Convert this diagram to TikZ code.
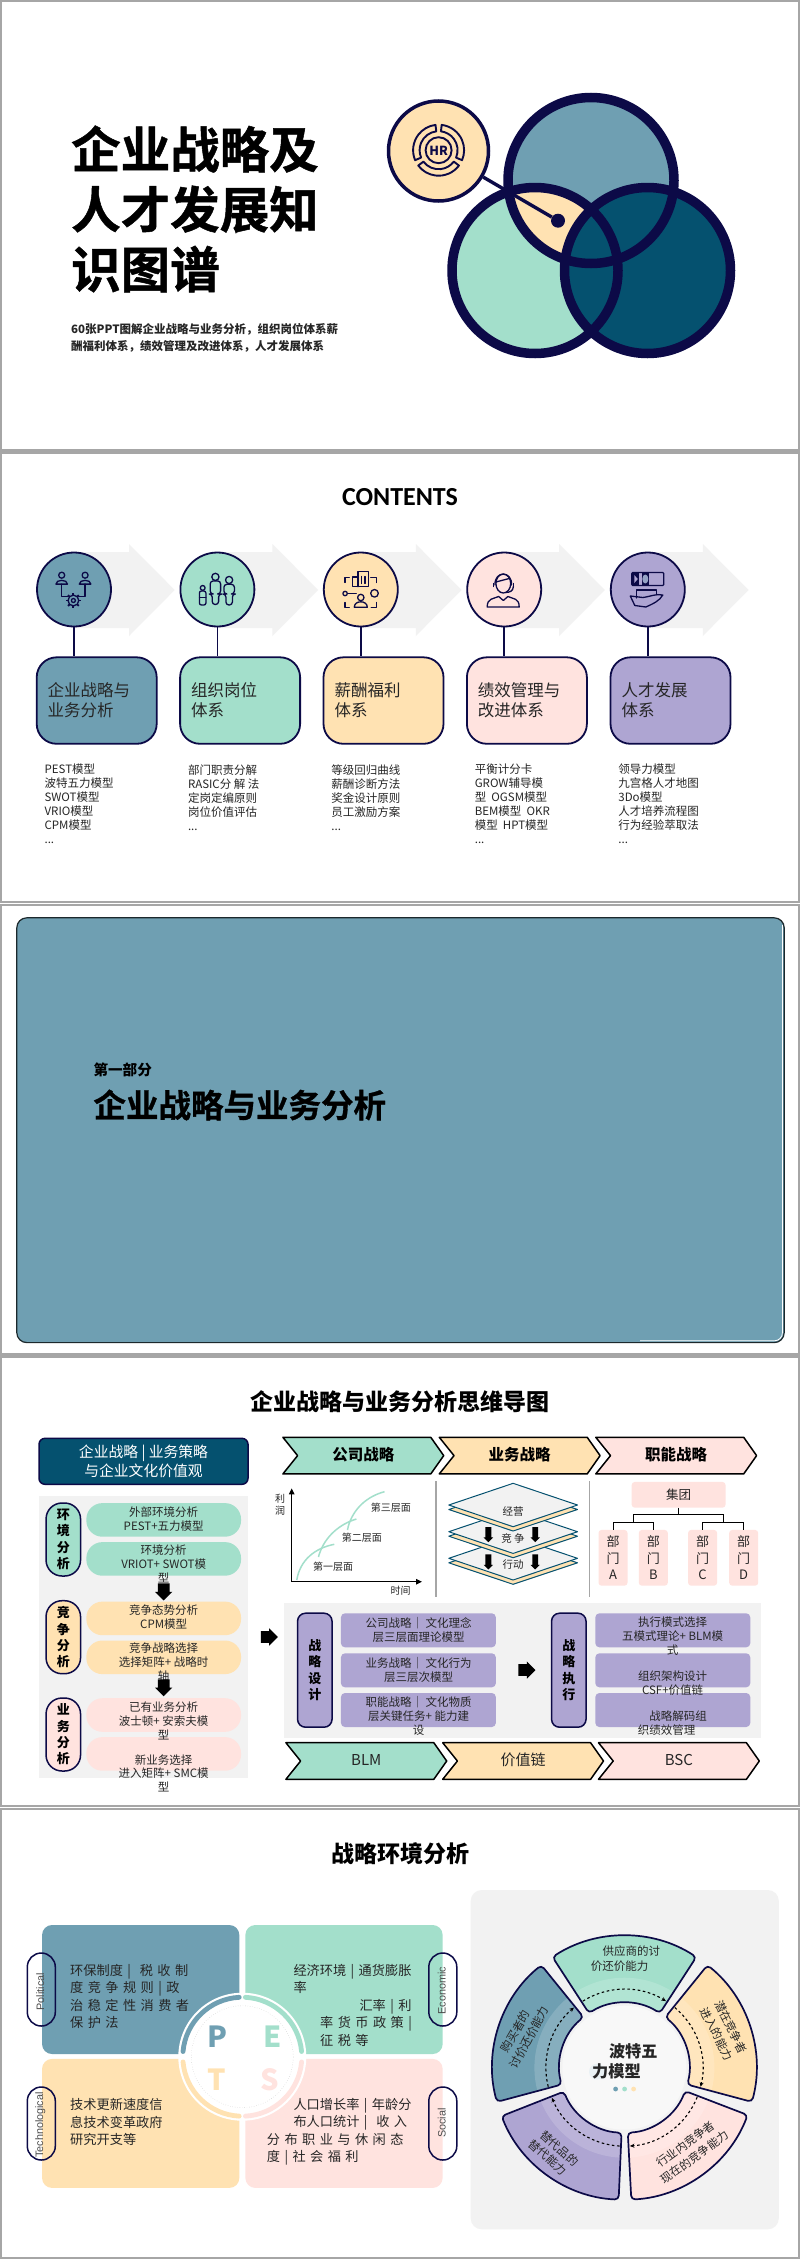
\documentclass[tikz,border=0pt]{standalone}
\usepackage{fontspec}
\usepackage{xcolor}
\usepackage{tikz}
\usetikzlibrary{positioning, arrows.meta, calc, shapes.arrows}
\setmainfont{Noto Sans CJK SC}
\newfontfamily\heavyfont[FakeBold=1.0]{Noto Sans CJK SC Bold}
\newfontfamily\headfont{Carlito}
\newfontfamily\arialfont{Liberation Sans}
\newfontfamily\widefont[WordSpace=1.5]{Noto Sans CJK SC}
\newcommand{\txtsize}[2]{\fontsize{#1}{#2}\selectfont}
\definecolor{bluec}{HTML}{6F9FB2}
\definecolor{mintc}{HTML}{A3DFCB}
\definecolor{creamc}{HTML}{FFE2B2}
\definecolor{pinkc}{HTML}{FFE3DF}
\definecolor{purplec}{HTML}{AEA5D2}
\definecolor{tealc}{HTML}{05516F}
\definecolor{navyc}{HTML}{0C0A47}
\definecolor{framec}{HTML}{A6A6A6}
\definecolor{panelc}{HTML}{F2F2F2}
\definecolor{inkc}{HTML}{262626}
\newcommand{\chevronbox}[4]{%
  \draw[chevronline,fill=#4] (#2,#3) -- ++(147.9,0) -- ++(12.9,18.3) -- ++(-12.9,18.3) -- ++(-147.9,0) -- ++(14.7,-18.3) -- cycle;
  \coordinate (#1) at (#2+80.4,#3+17.4);
}
\begin{document}
\begin{tikzpicture}[
    x=1pt, y=-1pt,
    slideframe/.style={draw=framec, line width=2.4pt},
    bigtitle/.style={inner sep=0pt, font=\heavyfont\txtsize{49.5}{60}, align=left, text=black},
    slidetitle/.style={inner sep=0pt, font=\bfseries\txtsize{23}{28}, text=black},
    topiccircle/.style={circle, draw=navyc, line width=1.8pt, minimum size=74pt, inner sep=0pt},
    topicbox/.style={draw=navyc, line width=1.8pt, rounded corners=20pt, minimum width=120pt, minimum height=86.5pt,
      text width=98pt, align=left, inner sep=0pt, text=inkc, font=\txtsize{16.5}{20}},
    linkline/.style={draw=navyc, line width=1.8pt},
    topiclist/.style={anchor=west, inner sep=0pt, align=left, text=inkc, font=\txtsize{11.5}{14}},
    icon/.style={draw=navyc, line width=1.3pt, line cap=round, line join=round},
    sidepill/.style={draw=navyc, line width=1.5pt, rounded corners=16pt, minimum width=34.5pt, minimum height=73pt,
      inner sep=0pt, align=center, text=black, font=\bfseries\txtsize{13}{16.3}},
    softpill/.style={rounded corners=16pt, minimum width=154.7pt, minimum height=33.6pt, inner sep=0pt},
    stepbox/.style={fill=purplec, rounded corners=4pt, minimum width=154.9pt, minimum height=34pt, inner sep=0pt},
    smalltext/.style={inner sep=0pt, align=center, text=inkc, font=\txtsize{11.5}{13.9}},
    chevronline/.style={draw=black, line width=1.5pt, line join=round},
    chevronlabel/.style={inner sep=0pt, text=black, font=\bfseries\txtsize{15.5}{18}},
    chevronplain/.style={inner sep=0pt, text=inkc, font=\txtsize{15}{18}},
    axisline/.style={draw=black, line width=1.3pt, -{Triangle[length=6pt,width=5.5pt]}},
    growcurve/.style={draw=mintc, line width=1.5pt},
    chartlabel/.style={inner sep=0pt, align=center, text=inkc, font=\txtsize{10}{12.6}},
    blockarrow/.style={single arrow, fill=black, inner sep=0pt, text height=11.5pt, text depth=0pt, text width=0pt,
      minimum height=17pt, minimum width=17pt, single arrow head extend=2.75pt, single arrow head indent=0pt},
    thinarrow/.style={single arrow, fill=black, inner sep=0pt, text height=5.5pt, text depth=0pt, text width=0pt,
      minimum height=15pt, minimum width=9pt, single arrow head extend=1.75pt, single arrow head indent=0pt, rotate=-90},
    orgbox/.style={fill=pinkc, rounded corners=3pt, inner sep=0pt, align=center, text=inkc},
    orgline/.style={draw=black, line width=1pt},
    divider/.style={draw=framec, line width=1.3pt},
    quadrant/.style={rounded corners=10pt, minimum width=197.3pt, minimum height=129pt, inner sep=0pt},
    quadtext/.style={anchor=west, inner sep=0pt, align=left, text=inkc, font=\widefont\txtsize{13.2}{17.4}},
    tagpill/.style={draw=navyc, line width=1.5pt, rounded corners=14pt, minimum width=28pt, minimum height=73pt, inner sep=0pt},
    tagtext/.style={rotate=90, inner sep=0pt, text=black!70, font=\arialfont\txtsize{10.8}{13}},
    pestletter/.style={inner sep=0pt, font=\bfseries\txtsize{29}{32}},
    wheeltext/.style={inner sep=0pt, text=inkc, font=\txtsize{11.5}{14}}
  ]
  \useasboundingbox (0,0) rectangle (800,2259);
  \fill[white] (0,0) rectangle (800,2259);

  % frames of the five slides
  \draw[slideframe] (1,1) rectangle (798.8,450.6);
  \draw[slideframe] (1,453.2) rectangle (798.8,902);
  \draw[slideframe] (1,905) rectangle (798.8,1354.3);
  \draw[slideframe] (1,1357.2) rectangle (798.8,1806);
  \draw[slideframe] (1,1808.8) rectangle (798.8,2257.8);

  % cover
  \node[bigtitle, anchor=west] (covertitle) at (71,209) {企业战略及\\人才发展知\\识图谱};
  \node[anchor=west, inner sep=0pt, align=left, font=\bfseries\txtsize{11.5}{17}, text=inkc] (coversub) at (71,337.5)
    {60张PPT图解企业战略与业务分析，组织岗位体系薪\\酬福利体系，绩效管理及改进体系，人才发展体系};
  \coordinate (topc) at (591,180.5);
  \coordinate (leftc) at (535,270.5);
  \coordinate (rightc) at (647.5,270.5);
  \fill[bluec] (topc) circle[radius=83];
  \fill[mintc] (leftc) circle[radius=83];
  \begin{scope}
    \clip (leftc) circle[radius=83];
    \fill[creamc] (topc) circle[radius=83];
  \end{scope}
  \fill[tealc] (rightc) circle[radius=83];
  \node[circle, draw=navyc, fill=creamc, line width=3.5pt, minimum size=100pt, inner sep=0pt] (hrcircle) at (438.5,151) {};
  \node[circle, fill=navyc, minimum size=14pt, inner sep=0pt] (hrdot) at (558,220.7) {};
  \draw[navyc, line width=3.4pt] (hrcircle) -- (hrdot);
  \draw[navyc, line width=9.5pt] (topc) circle[radius=83] (leftc) circle[radius=83] (rightc) circle[radius=83];
  \node[inner sep=0pt, text=navyc, font=\bfseries\txtsize{12.5}{14}] (hrlabel) at (438.6,150.5) {HR};
  \begin{scope}[shift={(438.6,150.2)}, y=1pt]
    \draw[navyc, line width=1.9pt] (0,0) circle[radius=13];
    \foreach \a/\b in {97/203, -23/83, 217/323}
      \draw[navyc, line width=1.9pt, line join=round] (\a:19) arc[start angle=\a, end angle=\b, radius=19]
        -- (\b:25.5) arc[start angle=\b, end angle=\a, radius=25.5] -- cycle;
  \end{scope}

  % contents
  \node[inner sep=0pt, text=black, font=\headfont\bfseries\txtsize{26}{30}] (contentstitle) at (400,497) {CONTENTS};
  \foreach \xc in {74,217.4,360.8,504.2,647.8}
    \fill[panelc] (\xc,552) -- ++(55,0) -- ++(0,-8) -- ++(45.7,46) -- ++(-45.7,46) -- ++(0,-8) -- ++(-55,0) -- cycle;
  \foreach \nm/\xc/\col/\ly/\ttl/\lst in {
    bizunit/74/bluec/804/{企业战略与\\业务分析}/{PEST模型\\波特五力模型\\SWOT模型\\VRIO模型\\CPM模型\\...},
    orgunit/217.4/mintc/797.5/{组织岗位\\体系}/{部门职责分解\\RASIC分 解 法\\定岗定编原则\\岗位价值评估\\...},
    payunit/360.8/creamc/797.5/{薪酬福利\\体系}/{等级回归曲线\\薪酬诊断方法\\奖金设计原则\\员工激励方案\\...},
    perfunit/504.2/pinkc/804/{绩效管理与\\改进体系}/{平衡计分卡\\GROW辅导模\\型\ \ OGSM模型\\BEM模型\ \ OKR\\模型\ \ HPT模型\\...},
    talentunit/647.8/purplec/804/{人才发展\\体系}/{领导力模型\\九宫格人才地图\\3Do模型\\人才培养流程图\\行为经验萃取法\\...}} {
    \node[topiccircle, fill=\col] (circle\nm) at (\xc,589.5) {};
    \node[topicbox, fill=\col, below=29pt of circle\nm, xshift=22.7pt] (box\nm) {\ttl};
    \draw[linkline] (circle\nm.south) -- (circle\nm.south |- box\nm.north);
    \node[topiclist] (list\nm) at (\xc-29.6,\ly) {\lst};
  }

  % icons of the contents row
  \begin{scope}[shift={(74,589.5)}]
    \foreach \s in {-1,1} {
      \draw[icon] (\s*11.7-0.6,-14.3) circle[radius=3];
      \draw[icon] (\s*11.7-6.4,-5.4) .. controls (\s*11.7-6.4,-10.4) and (\s*11.7+5.2,-10.4) .. (\s*11.7+5.2,-5.4) -- cycle;
      \draw[icon] (\s*11.7-0.6,-5.4) -- (\s*11.7-0.6,7) -- (\s*5.5-0.6,7);
    }
    \draw[icon] (-0.6,11) circle[radius=5.4];
    \draw[icon] (-0.6,11) circle[radius=2];
    \foreach \a in {0,45,...,315}
      \draw[icon, line width=1.9pt, line cap=butt] ($(-0.6,11)+(\a:5.2)$) -- ($(-0.6,11)+(\a:7.6)$);
  \end{scope}
  \begin{scope}[shift={(217.4,589.5)}]
    \draw[icon] (-14.7,-1.6) circle[radius=2.4];
    \draw[icon, rounded corners=2pt] (-18,1.5) rectangle (-11.5,15.5);
    \draw[icon] (-18,8) -- (-11.5,8);
    \draw[icon] (-2,-12.6) circle[radius=3.6];
    \draw[icon, rounded corners=3pt] (-7.2,-8.6) -- (3.2,-8.6) -- (3.2,4.5) -- (1.2,4.5) -- (1.2,15) -- (-5.2,15) -- (-5.2,4.5) -- (-7.2,4.5) -- cycle;
    \draw[icon] (11.7,-9.5) circle[radius=3.6];
    \draw[icon, rounded corners=3pt] (6.5,-5.2) -- (17,-5.2) -- (17,4.5) -- (15,4.5) -- (15,15.5) -- (8.5,15.5) -- (8.5,4.5) -- (6.5,4.5) -- cycle;
  \end{scope}
  \begin{scope}[shift={(360.8,589.5)}]
    \draw[icon] (-8,-2.9) -- (-8,-12.6) -- (-2.7,-12.6) -- (-2.7,-17.8) -- (7.6,-17.8) -- (7.6,-2.9) -- cycle;
    \draw[icon] (-2.7,-12.6) -- (-2.7,-2.9) (1,-13) -- (1,-6) (4.3,-13) -- (4.3,-6);
    \draw[icon] (-15.7,-7) -- (-15.7,-11.7) -- (-11.5,-11.7) (10,-11.7) -- (15.8,-11.7) -- (15.8,-7);
    \draw[icon] (-15.7,13) -- (-15.7,17.7) -- (-11.5,17.7) (10.5,17.7) -- (15.8,17.7) -- (15.8,13);
    \draw[icon] (-15.7,4) circle[radius=2.2];
    \draw[icon] (-13.4,4) -- (-4.5,4);
    \draw[icon] (13.7,3.8) circle[radius=3.8];
    \draw[icon] (0,8) circle[radius=3.2];
    \draw[icon] (-6.5,17.7) .. controls (-6.5,10.5) and (6.5,10.5) .. (6.5,17.7) -- cycle;
  \end{scope}
  \begin{scope}[shift={(504.2,589.5)}]
    \draw[icon] (-0.9,-6) ellipse[x radius=7.4, y radius=9.5];
    \draw[icon] (-9.2,-4.5) .. controls (-10,-19) and (8,-19) .. (7.4,-4.5);
    \draw[icon] (-8.3,-7.5) -- (5,-11);
    \draw[icon] (-11,-6) -- (-11,-3) (9.2,-6) -- (9.2,-3);
    \draw[icon] (9.2,-3) .. controls (9,2) and (5,3) .. (1,3);
    \draw[icon] (-17,17.5) .. controls (-17,8.5) and (-11,9.5) .. (-5.5,7) -- (-0.9,11) -- (3.7,7) .. controls (9,9.5) and (15,8.5) .. (15,17.5) -- cycle;
  \end{scope}
  \begin{scope}[shift={(647.8,589.5)}]
    \draw[icon, rounded corners=1pt] (-16,-17) rectangle (16,-4);
    \fill[navyc] (-16,-17) rectangle (-9,-4);
    \fill[navyc] (-6,-17) rectangle (1,-4);
    \fill[bluec!40!purplec] (-2.5,-10.5) ellipse[x radius=3, y radius=4.5];
    \fill[purplec] (-13.5,-14.5) -- (-10,-10.5) -- (-13.5,-6.5) -- cycle;
    \draw[icon] (-11,8.5) -- (-11,0.5) -- (8.5,0.5) -- (8.5,5);
    \draw[icon] (-17.5,6.5) -- (-5,8) .. controls (3,7) and (8,4) .. (15,5.5) .. controls (12,11) and (6,14) .. (-2,17.5) -- (-13,16) -- cycle;
  \end{scope}

  % section slide
  \draw[draw=black!75!bluec, fill=bluec, line width=1.2pt, rounded corners=10pt] (16.8,917.8) rectangle (784.2,1342.6);
  \draw[white, line width=0.8pt, rounded corners=8pt] (782.4,925) -- (782.4,1340.8) -- (640,1340.8);
  \node[anchor=west, inner sep=0pt, text=black, font=\bfseries\txtsize{14.6}{18}] (sectionno) at (93.3,1070) {第一部分};
  \node[anchor=west, inner sep=0pt, text=black, font=\heavyfont\txtsize{32.5}{38}] (sectionname) at (93.3,1105) {企业战略与业务分析};

  % mind map slide
  \node[slidetitle] (maptitle) at (400,1401.7) {企业战略与业务分析思维导图};
  \node[draw=navyc, fill=tealc, line width=1.5pt, rounded corners=6pt, minimum width=209pt, minimum height=46pt,
    inner sep=0pt, align=center, text=white, font=\txtsize{14.8}{18.3}] (valuehead) at (143.5,1461.3)
    {企业战略 | 业务策略\\与企业文化价值观};
  \fill[panelc] (39.3,1495.7) rectangle (247.7,1778);
  \node[sidepill, fill=mintc] (envtag) at (63.3,1539.5) {环\\境\\分\\析};
  \node[sidepill, fill=creamc] (comptag) at (63.3,1637.2) {竞\\争\\分\\析};
  \node[sidepill, fill=pinkc] (bustag) at (63.3,1734.5) {业\\务\\分\\析};
  \node[softpill, fill=mintc] (extpill) at (163.7,1519.9) {};
  \node[softpill, fill=mintc] (intpill) at (163.7,1558.9) {};
  \node[softpill, fill=creamc] (posepill) at (163.7,1618.4) {};
  \node[softpill, fill=creamc] (choicepill) at (163.7,1657.3) {};
  \node[softpill, fill=pinkc] (oldpill) at (163.7,1715) {};
  \node[softpill, fill=pinkc] (newpill) at (163.7,1753.9) {};
  \node[smalltext] (exttext) at (163.7,1519) {外部环境分析\\PEST+五力模型};
  \node[smalltext] (inttext) at (163.7,1564) {环境分析\\VRIOT+ SWOT模\\型};
  \node[smalltext] (posetext) at (163.7,1617.3) {竞争态势分析\\CPM模型};
  \node[smalltext] (choicetext) at (163.7,1662.3) {竞争战略选择\\选择矩阵+ 战略时\\轴};
  \node[smalltext] (oldtext) at (163.7,1721) {已有业务分析\\波士顿+ 安索夫模\\型};
  \node[smalltext] (newtext) at (163.7,1773.3) {新业务选择\\进入矩阵+ SMC模\\型};
  \node[blockarrow, rotate=-90] (flowa) at (163.7,1589) {};
  \node[blockarrow, rotate=-90] (flowb) at (163.7,1684.8) {};
  \node[blockarrow] (flowc) at (266.3,1637) {};

  \chevronbox{chevcorp}{282.9}{1437.3}{mintc}
  \chevronbox{chevbus}{439.3}{1437.3}{creamc}
  \chevronbox{chevfunc}{595.8}{1437.3}{pinkc}
  \node[chevronlabel] (corplabel) at (chevcorp) {公司战略};
  \node[chevronlabel] (buslabel) at (chevbus) {业务战略};
  \node[chevronlabel] (funclabel) at (chevfunc) {职能战略};
  \draw[divider] (436,1481) -- (436,1597);
  \draw[divider] (589.7,1481) -- (589.7,1597);

  \coordinate (chartorigin) at (291.7,1581.7);
  \draw[axisline] (chartorigin) -- (291.7,1488.3);
  \draw[axisline] (chartorigin) -- (422,1581.7);
  \draw[growcurve] (296.8,1580) .. controls (300,1560) and (315,1548) .. (334.3,1544.3);
  \draw[growcurve] (319,1555) .. controls (325,1536) and (340,1524) .. (356.4,1519);
  \draw[growcurve] (347.9,1527.7) .. controls (353,1508) and (368,1496) .. (384.5,1491.7);
  \draw[growcurve] (319,1555) -- (318.5,1557) (347.9,1527.7) -- (347.5,1530);
  \node[chartlabel] (ylabel) at (280,1504.5) {利\\润};
  \node[chartlabel] (xlabel) at (400.7,1590.3) {时间};
  \node[chartlabel] (levela) at (333,1567) {第一层面};
  \node[chartlabel] (levelb) at (361.8,1537.7) {第二层面};
  \node[chartlabel] (levelc) at (390.9,1508) {第三层面};

  \foreach \dy in {53.3,26.7,0} {
    \draw[draw=tealc, fill=creamc, line width=1pt, line join=round] (448.8,1509.5+\dy) -- (513.1,1488+\dy) -- (577.5,1509.5+\dy) -- (513.1,1531+\dy) -- cycle;
    \draw[draw=tealc, fill=panelc, line width=1pt, line join=round] (448.8,1505+\dy) -- (513.1,1483.3+\dy) -- (577.5,1505+\dy) -- (513.1,1526.7+\dy) -- cycle;
  }
  \node[chartlabel, font=\txtsize{10.5}{12}] (layera) at (513,1512) {经营};
  \node[chartlabel, font=\txtsize{10.5}{12}] (layerb) at (513,1538) {竞 争};
  \node[chartlabel, font=\txtsize{10.5}{12}] (layerc) at (513,1564.3) {行动};
  \node[thinarrow] (layerarrowa) at (488.4,1533.2) {};
  \node[thinarrow] (layerarrowb) at (535.2,1533.2) {};
  \node[thinarrow] (layerarrowc) at (488.4,1560.5) {};
  \node[thinarrow] (layerarrowd) at (535.2,1560.5) {};

  \node[orgbox, minimum width=93.8pt, minimum height=25.7pt, font=\txtsize{12.5}{15}] (groupbox) at (678.6,1494.8) {集团};
  \foreach \nm/\xc/\dep in {depta/613/A, deptb/653.3/B, deptc/702.6/C, deptd/743.7/D}
    \node[orgbox, minimum width=29pt, minimum height=55.7pt, font=\txtsize{13}{16.5}] (\nm) at (\xc,1557.8) {部\\门\\\dep};
  \coordinate (orgbus) at (678.6,1514.7);
  \coordinate (forkl) at (633,1522.3);
  \coordinate (forkr) at (723.8,1522.3);
  \draw[orgline] (groupbox.south) -- (orgbus);
  \draw[orgline] (forkl) |- (orgbus) -| (forkr);
  \draw[orgline] (depta.north) |- (forkl) -| (deptb.north);
  \draw[orgline] (deptc.north) |- (forkr) -| (deptd.north);

  \fill[panelc] (283.9,1603) rectangle (761,1737.7);
  \node[sidepill, fill=purplec, rounded corners=8pt, minimum height=114pt] (designtag) at (314.8,1670.2) {战\\略\\设\\计};
  \node[sidepill, fill=purplec, rounded corners=8pt, minimum height=114pt] (exectag) at (568.8,1670.2) {战\\略\\执\\行};
  \node[stepbox] (designa) at (418.4,1630.3) {};
  \node[stepbox] (designb) at (418.4,1670.3) {};
  \node[stepbox] (designc) at (418.4,1710) {};
  \node[stepbox] (execa) at (672.8,1630.3) {};
  \node[stepbox] (execb) at (672.8,1670.3) {};
  \node[stepbox] (execc) at (672.8,1710) {};
  \node[smalltext] (designatext) at (418.7,1629.7) {公司战略｜ 文化理念\\层三层面理论模型};
  \node[smalltext] (designbtext) at (418.7,1669.7) {业务战略｜ 文化行为\\层三层次模型};
  \node[smalltext] (designctext) at (418.7,1716) {职能战略｜ 文化物质\\层关键任务+ 能力建\\设};
  \node[smalltext] (execatext) at (672.6,1636.3) {执行模式选择\\五模式理论+ BLM模\\式};
  \node[smalltext] (execbtext) at (672.6,1683.3) {组织架构设计\\CSF+价值链};
  \node[smalltext] (execctexta) at (678,1716) {战略解码组};
  \node[smalltext] (execctextb) at (666.5,1730) {织绩效管理};
  \node[blockarrow] (flowd) at (524,1670) {};

  \chevronbox{chevblm}{285.9}{1742.7}{mintc}
  \chevronbox{chevval}{442.7}{1742.7}{creamc}
  \chevronbox{chevbsc}{598.5}{1742.7}{pinkc}
  \node[chevronplain] (blmlabel) at (chevblm) {BLM};
  \node[chevronplain] (vallabel) at (chevval) {价值链};
  \node[chevronplain] (bsclabel) at (chevbsc) {BSC};

  % environment slide
  \node[slidetitle] (envtitle) at (400,1853.3) {战略环境分析};
  \node[quadrant, fill=bluec] (quadp) at (140.7,1989.5) {};
  \node[quadrant, fill=mintc] (quade) at (344,1989.5) {};
  \node[quadrant, fill=creamc] (quadt) at (140.7,2123.4) {};
  \node[quadrant, fill=pinkc] (quads) at (344,2123.4) {};
  \node[quadtext] (quadptext) at (70,1996.5) {环保制度 | \ 税 收 制\\度 竞 争 规 则 | 政\\治 稳 定 性 消 费 者\\保 护 法};
  \node[quadtext] (quadetext) at (293.3,2005.3) {经济环境 | 通货膨胀\\率\\\hspace*{66pt}汇率 | 利\\\hspace*{26.7pt}率 货 币 政 策 |\\\hspace*{26.7pt}征 税 等};
  \node[quadtext] (quadttext) at (70,2122) {技术更新速度信\\息技术变革政府\\研究开支等};
  \node[quadtext] (quadstext) at (266.7,2131.7) {\hspace*{26.6pt}人口增长率 | 年龄分\\\hspace*{26.6pt}布人口统计 | \ 收 入\\分 布 职 业 与 休 闲 态\\度 | 社 会 福 利};
  \node[tagpill] (tagp) at (41.3,1989.5) {};
  \node[tagpill] (tagt) at (41.3,2123.5) {};
  \node[tagpill] (tage) at (442.8,1989.5) {};
  \node[tagpill] (tags) at (442.8,2123.5) {};
  \node[tagtext] (tagptext) at (40.3,1991.7) {Political};
  \node[tagtext] (tagttext) at (40.3,2125) {Technological};
  \node[tagtext] (tagetext) at (441.7,1990.7) {Economic};
  \node[tagtext] (tagstext) at (441.7,2123) {Social};
  \node[circle, fill=white, minimum size=128pt, inner sep=0pt] (pestdisc) at (242.3,2056.7) {};
  \begin{scope}[shift={(242.3,2056.7)}, y=1pt]
    \draw[black!25, line width=0.4pt, dotted] (0,0) circle[radius=51];
    \foreach \a/\b/\col in {175/93/bluec, 87/5/mintc, 185/267/creamc, 273/355/pinkc}
      \draw[\col, line width=4.8pt, line cap=round] (\a:59.5) arc[start angle=\a, end angle=\b, radius=59.5];
  \end{scope}
  \node[pestletter, text=bluec] (letterp) at (217.7,2036.7) {P};
  \node[pestletter, text=mintc] (lettere) at (273,2036.7) {E};
  \node[pestletter, text=creamc] (lettert) at (217,2079.7) {T};
  \node[pestletter, text=pinkc] (letters) at (269.3,2079.7) {S};

  \fill[panelc, rounded corners=11pt] (470.7,1890) rectangle (778.8,2229.3);
  \begin{scope}[shift={(624.4,2067.7)}, y=1pt]
    \fill[black!1!white, opacity=0.6] (0,0) circle[radius=62];
    \foreach \c/\col in {90/mintc, 18/creamc, -54/pinkc, -125.5/purplec, 162/bluec} {
      \fill[\col, rounded corners=4pt] ({\c+33}:132) arc[start angle=\c+33, end angle=\c-33, radius=132]
        -- ({\c-33}:65) arc[start angle=\c-33, end angle=\c+33, radius=65] -- cycle;
      \begin{scope}
        \clip ({\c+33}:132) arc[start angle=\c+33, end angle=\c-33, radius=132]
          -- ({\c-33}:65) arc[start angle=\c-33, end angle=\c+33, radius=65] -- cycle;
        \fill[white, opacity=0.16] (0,0) circle[radius=90];
      \end{scope}
      \draw[navyc, line width=1.7pt, rounded corners=4pt] ({\c+33}:132) arc[start angle=\c+33, end angle=\c-33, radius=132]
        -- ({\c-33}:65) arc[start angle=\c-33, end angle=\c+33, radius=65] -- cycle;
      \draw[black, line width=1.1pt, dash pattern=on 2.6pt off 2.6pt, -{Stealth[length=4.5pt,width=4pt]}]
        ({\c+32}:78.5) arc[start angle=\c+32, end angle=\c-32, radius=78.5];
    }
  \end{scope}
  \fill[bluec!15!white] (597,2071.7) circle[radius=8];
  \node[inner sep=0pt, text=inkc, font=\bfseries\txtsize{16.2}{20}] (wheelhead) at (633.3,2051) {波特五};
  \node[inner sep=0pt, text=inkc, font=\bfseries\txtsize{16.2}{20}] (wheelheadb) at (616.5,2071) {力模型};
  \fill[bluec] (615.6,2089) circle[radius=2.4];
  \fill[mintc] (624.6,2089) circle[radius=2.4];
  \fill[creamc] (633.6,2089) circle[radius=2.4];
  \node[wheeltext] (supplya) at (631.3,1951) {供应商的讨};
  \node[wheeltext] (supplyb) at (619.6,1965.7) {价还价能力};
  \node[wheeltext, rotate=-63] (entranta) at (731,2026.7) {潜在竞争者};
  \node[wheeltext, rotate=-63] (entrantb) at (716.9,2034) {进入的能力};
  \node[wheeltext, rotate=36] (rivala) at (685.8,2144) {行业内竞争者};
  \node[wheeltext, rotate=36] (rivalb) at (694.5,2157.3) {现在的竞争能力};
  \node[wheeltext, rotate=-42] (substa) at (559.4,2148.3) {替代品的};
  \node[wheeltext, rotate=-42] (substb) at (548,2157.3) {替代能力};
  \node[wheeltext, rotate=60] (buyera) at (515.2,2031.7) {购买者的};
  \node[wheeltext, rotate=62] (buyerb) at (529.3,2037.3) {讨价还价能力};
\end{tikzpicture}
\end{document}
